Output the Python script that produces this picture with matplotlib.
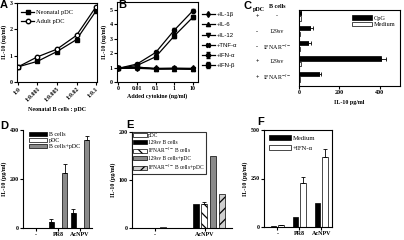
import numpy as np
import matplotlib
matplotlib.use('Agg')
from matplotlib import pyplot as plt

# ---- panel A
ratios = ['1:0', '1:0.001', '1:0.005', '1:0.02', '1:0.1']
neonatal_pdc = [0.57, 0.78, 1.15, 1.6, 2.68]
adult_pdc = [0.57, 0.95, 1.24, 1.76, 2.84]

# ---- panel B
doses = ['0', '0.01', '0.1', '1', '10']
il1b = [0.95, 1.0, 0.95, 0.95, 0.95]
il6 = [0.95, 1.05, 0.9, 0.92, 0.9]
il12 = [0.95, 0.95, 0.9, 0.9, 0.88]
tnfa = [0.95, 1.0, 0.92, 0.95, 0.92]
ifna = [0.95, 1.25, 2.05, 3.6, 4.95]
ifnb = [0.95, 1.15, 1.75, 3.2, 4.5]
ifn_err = [0.0, 0.05, 0.08, 0.18, 0.12]

# ---- panel C
c_pdc = ['+', '-', '-', '+', '+']
c_bcells = ['-', '129sv', 'IFNAR$^{-/-}$', '129sv', 'IFNAR$^{-/-}$']
c_cpg = [8, 55, 47, 408, 97]
c_cpg_err = [3, 14, 12, 25, 14]
c_medium = [8, 7, 7, 8, 7]

# ---- panel D
d_groups = ['-', 'PR8', 'AcNPV']
d_bcells = [0, 25, 62]
d_bcells_err = [0, 10, 15]
d_pdc = [0, 0, 0]
d_both = [0, 225, 360]
d_both_err = [0, 35, 15]

# ---- panel E
e_groups = ['-', 'AcNPV']
e_pdc = [3, np.nan]
e_129 = [np.nan, 51]
e_ifnar = [np.nan, 49]
e_ifnar_err = [0, 6]
e_129_pdc = [np.nan, 151]
e_ifnar_pdc = [np.nan, 71]

# ---- panel F
f_groups = ['-', 'PR8', 'AcNPV']
f_medium = [7, 50, 122]
f_ifna = [9, 228, 360]
f_ifna_err = [2, 32, 40]

plt.rcParams.update({'font.family': 'Liberation Serif', 'font.weight': 'bold',
                     'font.size': 4.3, 'axes.linewidth': 0.8,
                     'mathtext.fontset': 'stix',
                     'xtick.major.size': 2, 'ytick.major.size': 2,
                     'xtick.major.width': 0.8, 'ytick.major.width': 0.8,
                     'xtick.major.pad': 1.2, 'ytick.major.pad': 1.2,
                     'axes.labelweight': 'bold', 'axes.labelpad': 1.5,
                     'hatch.linewidth': 0.9, 'legend.fontsize': 4.2})

W, H = 404, 240
fig = plt.figure(figsize=(W / 100, H / 100), dpi=100)

def rect(l, t, r, b):
	return [l / W, 1 - b / H, (r - l) / W, (b - t) / H]

def letter(x, y, s):
	fig.text(x / W, 1 - y / H, s, family='Liberation Sans', weight='bold',
			 fontsize=8, va='top', ha='left')

def open_axes(ax):
	ax.spines['right'].set_visible(False)
	ax.spines['top'].set_visible(False)

ek = dict(elinewidth=0.6, capsize=1.2, capthick=0.6)
plain = {'weight': 'normal', 'size': 4.3}

# ---------------- A
ax = fig.add_axes(rect(17, 2.5, 97, 82))
x = np.arange(len(ratios))
ax.plot(x, neonatal_pdc, '-s', color='black', ms=3.2, lw=0.9, label='Neonatal pDC')
ax.plot(x, adult_pdc, '-o', color='black', mfc='white', ms=3.2, lw=0.9, label='Adult pDC')
ax.set_xlim(-0.05, 4.05)
ax.set_ylim(0, 3)
ax.set_yticks([0, 1, 2, 3])
ax.set_xticks(x)
ax.set_xticklabels(ratios, rotation=45, ha='right', rotation_mode='anchor')
ax.set_xlabel('Neonatal B cells : pDC', labelpad=3)
ax.set_ylabel('IL-10 (ng/ml)')
ax.legend(loc='upper left', bbox_to_anchor=(0.0, 0.97), frameon=False,
		  handlelength=2.0, handletextpad=0.3, labelspacing=0.6, borderaxespad=0.3,
		  prop={'weight': 'normal', 'size': 4.6})
letter(0, 0, 'A')

# ---------------- B
ax = fig.add_axes(rect(117, 2, 198, 82))
x = np.arange(len(doses))
series = [(il1b, 'd', '+IL-1β'), (il6, '^', '+IL-6'), (il12, 'v', '+IL-12'),
		  (tnfa, 'X', '+TNF-α'), (ifna, 'o', '+IFN-α'), (ifnb, 's', '+IFN-β')]
for vals, m, lab in series:
	err = ifn_err if vals in (ifna, ifnb) else None
	ax.errorbar(x, vals, yerr=err, fmt='-' + m, color='black', ms=3.0, lw=0.9,
				elinewidth=0.6, capsize=1.2, label=lab)
ax.set_xlim(-0.08, 4.27)
ax.set_ylim(0, 5.55)
ax.set_yticks(range(6))
ax.set_xticks(x)
ax.set_xticklabels(doses)
ax.set_xlabel('Added cytokine (ng/ml)', labelpad=1.5)
ax.set_ylabel('IL-10 (ng/ml)')
ax.legend(loc='upper left', bbox_to_anchor=(1.0, 0.92), frameon=False,
		  handlelength=2.2, handletextpad=0.3, labelspacing=0.85, borderaxespad=0.2,
		  prop={'family': 'Liberation Sans', 'weight': 'normal', 'size': 4.3})
letter(118, 0, 'B')

# ---------------- C
ax = fig.add_axes(rect(299, 10, 400, 86))
y = np.arange(len(c_cpg))
ax.barh(y - 0.17, c_cpg, height=0.28, color='black', edgecolor='black', lw=0.5,
		xerr=[np.zeros(len(c_cpg)), c_cpg_err], error_kw=ek, label='CpG')
ax.barh(y + 0.2, c_medium, height=0.28, color='white', edgecolor='black', lw=0.5,
		label='Medium')
ax.set_ylim(4.62, -0.35)
ax.set_xlim(0, 500)
ax.set_xticks([0, 200, 400])
ax.set_yticks([])
ax.set_xlabel('IL-10 pg/ml', labelpad=3)
ax.legend(loc='upper right', bbox_to_anchor=(1.0, 0.99), frameon=False,
		  handlelength=3.2, handletextpad=0.3, labelspacing=0.2, borderaxespad=0.3,
		  prop={'weight': 'normal', 'size': 4.6})
trans = ax.get_yaxis_transform()
for i in range(len(c_pdc)):
	ax.text(-42 / 101, y[i] + 0.05, c_pdc[i], transform=trans, ha='center', va='center')
	ax.text(-22 / 101, y[i] + 0.05, c_bcells[i], transform=trans, ha='center',
			va='center', fontweight='normal')
fig.text(259 / W, 1 - 10 / H, 'pDC', ha='center', va='center')
fig.text(277 / W, 1 - 7 / H, 'B cells', ha='center', va='center')
letter(243, 1, 'C')

# ---------------- D
ax = fig.add_axes(rect(23, 130, 92, 228))
open_axes(ax)
x = np.arange(len(d_groups))
ax.bar(x - 0.3, d_bcells, 0.23, color='black', edgecolor='black', lw=0.5,
	   yerr=[np.zeros(3), d_bcells_err], error_kw=ek, label='B cells')
ax.bar(x, d_pdc, 0.23, color='white', edgecolor='black', lw=0.5, label='pDC')
ax.bar(x + 0.3, d_both, 0.23, color='#8a8a8a', edgecolor='black', lw=0.5,
	   yerr=[np.zeros(3), d_both_err], error_kw=ek, label='B cells+pDC')
ax.set_xlim(-0.59, 2.55)
ax.set_ylim(0, 400)
ax.set_yticks([0, 200, 400])
ax.set_xticks(x)
ax.set_xticklabels(d_groups)
ax.set_ylabel('IL-10 (pg/ml)')
ax.legend(loc='upper left', bbox_to_anchor=(0.04, 1.02), frameon=False,
		  handlelength=3.0, handletextpad=0.3, labelspacing=0.15, borderaxespad=0.2,
		  prop=plain)
letter(0, 121, 'D')

# ---------------- E
ax = fig.add_axes(rect(132, 132, 232, 228))
open_axes(ax)
x = np.arange(len(e_groups))
ax.bar(x + 0.15, e_pdc, 0.12, color='white', edgecolor='black', lw=0.5, label='pDC')
ax.bar(x - 0.19, e_129, 0.12, color='black', edgecolor='black', lw=0.5,
	   label='129sv B cells')
ax.bar(x - 0.02, e_ifnar, 0.12, color='white', edgecolor='black', lw=0.5, hatch='\\\\\\',
	   yerr=[np.zeros(2), e_ifnar_err], error_kw=ek, label='IFNAR$^{-/-}$ B cells')
ax.bar(x + 0.16, e_129_pdc, 0.12, color='#8a8a8a', edgecolor='black', lw=0.5,
	   label='129sv B cells+pDC')
ax.bar(x + 0.33, e_ifnar_pdc, 0.12, color='#cfcfcf', edgecolor='black', lw=0.5,
	   hatch='///', label='IFNAR$^{-/-}$ B cells+pDC')
ax.set_xlim(-0.46, 1.54)
ax.set_ylim(0, 200)
ax.set_yticks([0, 100, 200])
ax.set_xticks(x)
ax.set_xticklabels(e_groups)
ax.set_ylabel('IL-10 (pg/ml)')
lg = ax.legend(loc='upper left', bbox_to_anchor=(0.0, 1.0), frameon=True, fancybox=False,
			   edgecolor='black', handlelength=2.4, handletextpad=0.3, labelspacing=0.2,
			   borderaxespad=0.0, borderpad=0.25,
			   prop={'weight': 'normal', 'size': 4.0})
lg.get_frame().set_linewidth(0.8)
letter(126, 120, 'E')

# ---------------- F
ax = fig.add_axes(rect(264, 130, 332, 227))
x = np.arange(len(f_groups))
ax.bar(x - 0.17, f_medium, 0.25, color='black', edgecolor='black', lw=0.5, label='Medium')
ax.bar(x + 0.16, f_ifna, 0.25, color='white', edgecolor='black', lw=0.5,
	   yerr=[np.zeros(3), f_ifna_err], error_kw=ek, label='+IFN-α')
ax.set_xlim(-0.61, 2.48)
ax.set_ylim(0, 500)
ax.set_yticks([0, 250, 500])
ax.set_xticks(x)
ax.set_xticklabels(f_groups)
ax.set_ylabel('IL-10 (pg/ml)')
ax.legend(loc='upper left', bbox_to_anchor=(0.0, 1.0), frameon=False,
		  handlelength=3.2, handletextpad=0.3, labelspacing=0.6, borderaxespad=0.4,
		  prop={'weight': 'normal', 'size': 4.8})
letter(257, 117, 'F')

fig.savefig('out.png', dpi=100)
